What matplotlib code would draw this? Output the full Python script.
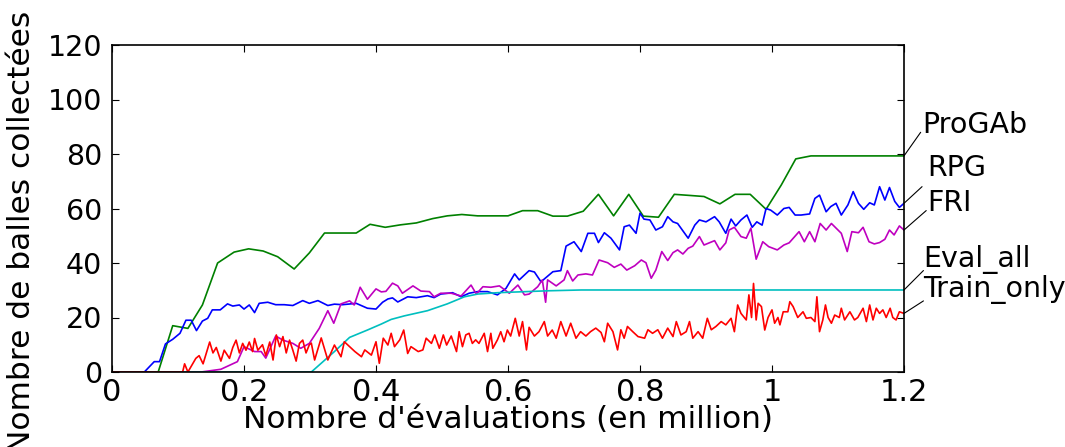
import matplotlib
matplotlib.use("Agg")
import matplotlib.pyplot as plt

# ---------------- data ----------------
x_ticks = [0, 0.2, 0.4, 0.6, 0.8, 1.0, 1.2]
x_ticklabels = ["0", "0.2", "0.4", "0.6", "0.8", "1", "1.2"]
y_ticks = [0, 20, 40, 60, 80, 100, 120]
series_names = ["ProGAb", "RPG", "FRI", "Eval_all", "Train_only"]

progab_x = [0, 0.07, 0.092, 0.115, 0.137, 0.16, 0.185, 0.207, 0.229, 0.251, 0.276, 0.299,
            0.322, 0.345, 0.37, 0.391, 0.414, 0.437, 0.461, 0.486, 0.508, 0.53, 0.554, 0.577,
            0.6, 0.622, 0.645, 0.668, 0.69, 0.714, 0.737, 0.76, 0.783, 0.805, 0.828, 0.852,
            0.875, 0.897, 0.921, 0.944, 0.967, 0.991, 1.014, 1.036, 1.059, 1.2]
progab_y = [0, 0, 17, 16, 24.6, 40, 44, 45.2, 44.4, 42.3, 37.8, 43.7,
            51, 51, 51, 54.2, 53.1, 54, 54.7, 56.3, 57.3, 57.8, 57.3, 57.3,
            57.3, 59.2, 59.2, 57.2, 57.2, 59, 65.2, 57.3, 65.2, 57.2, 56.8, 65.2,
            64.8, 64.4, 61.7, 65.2, 65.2, 59.7, 68.6, 78.2, 79.3, 79.3]

rpg_points = [(0, 0), (0.049, 0), (0.064, 3.8), (0.072, 3.8), (0.081, 10.3), (0.092, 12),
              (0.103, 14.2), (0.112, 19), (0.12, 19), (0.128, 15.2), (0.137, 18.7), (0.145, 19.7),
              (0.152, 22.8), (0.164, 22.8), (0.175, 25), (0.183, 24.2), (0.193, 24.6), (0.2, 23.1),
              (0.208, 24.6), (0.216, 21.8), (0.223, 25.2), (0.236, 25.6), (0.248, 24.7), (0.261, 24.7),
              (0.274, 24.4), (0.289, 26.2), (0.299, 25.2), (0.312, 26.2), (0.327, 24.4), (0.337, 24.9),
              (0.349, 24.7), (0.37, 25.2), (0.387, 23.4), (0.4, 23.1), (0.41, 25.6), (0.418, 26.8),
              (0.425, 27.2), (0.433, 25.7), (0.448, 27.6), (0.461, 27.3), (0.478, 28), (0.488, 27.3),
              (0.498, 28.6), (0.516, 29.1), (0.529, 27.6), (0.541, 28.9), (0.554, 29.5), (0.569, 29.5),
              (0.584, 28.3), (0.597, 30.7), (0.61, 36), (0.617, 33.8), (0.632, 37.2), (0.64, 36.7),
              (0.65, 33.1), (0.668, 36.8), (0.68, 37.2), (0.688, 46.2), (0.7, 47.8), (0.711, 44.2),
              (0.721, 50.9), (0.731, 50.9), (0.737, 47.5), (0.746, 51.1), (0.756, 49.1), (0.769, 44.8),
              (0.776, 53.3), (0.784, 53.9), (0.794, 50.9), (0.8, 58.3), (0.806, 56.1), (0.815, 55.8),
              (0.824, 52.1), (0.834, 53.3), (0.842, 57), (0.85, 55.1), (0.857, 54.5), (0.873, 49.1),
              (0.883, 53.9), (0.89, 55.8), (0.9, 55.1), (0.913, 57), (0.92, 55.1), (0.93, 50.9),
              (0.938, 56.1), (0.945, 53.6), (0.953, 55.8), (0.962, 57.6), (0.97, 53.1), (0.977, 55.1),
              (0.985, 53.9), (0.991, 60), (0.998, 59.4), (1.008, 57.6), (1.018, 60), (1.026, 60.4),
              (1.035, 57.6), (1.044, 57.6), (1.057, 58), (1.065, 63.7), (1.072, 64.9), (1.082, 58.8),
              (1.089, 60.7), (1.097, 61.9), (1.105, 57.6), (1.115, 61.3), (1.123, 66.2), (1.131, 61.9),
              (1.139, 59.7), (1.148, 62.1), (1.155, 61.3), (1.163, 68), (1.171, 63.1), (1.178, 67.7),
              (1.186, 62.6), (1.193, 60.4), (1.2, 61.9)]

fri_points = [(0, 0), (0.135, 0), (0.165, 1), (0.19, 3.8), (0.2, 9.3), (0.216, 7.5), (0.226, 7.5),
              (0.233, 5.1), (0.248, 13.2), (0.259, 11.7), (0.274, 10.5), (0.286, 8.7), (0.299, 10.5),
              (0.314, 16), (0.327, 22.5), (0.336, 17.9), (0.347, 25), (0.36, 26.1), (0.367, 24.6),
              (0.376, 31.1), (0.387, 26.7), (0.4, 30.5), (0.408, 29.4), (0.415, 29.6), (0.425, 32.6),
              (0.433, 31.6), (0.44, 28.9), (0.456, 31.6), (0.468, 29.7), (0.481, 29.5), (0.488, 27.6),
              (0.498, 28.9), (0.514, 28.9), (0.529, 27.9), (0.544, 31.9), (0.552, 28.6), (0.562, 31.3),
              (0.574, 31.1), (0.587, 31.6), (0.602, 28.9), (0.615, 31.9), (0.625, 28.3), (0.632, 28.6),
              (0.645, 31.3), (0.652, 33.8), (0.657, 25.6), (0.66, 33.8), (0.673, 31.6), (0.685, 33.8),
              (0.69, 37.2), (0.698, 33.4), (0.706, 35.6), (0.718, 36), (0.728, 35.6), (0.738, 41.1),
              (0.751, 40.1), (0.761, 38.4), (0.771, 39.6), (0.78, 37.4), (0.792, 39), (0.802, 41.1),
              (0.809, 40.1), (0.817, 34.4), (0.824, 37.4), (0.833, 44.2), (0.842, 40.9), (0.85, 43.8),
              (0.857, 44.8), (0.865, 43.3), (0.873, 45.4), (0.88, 46.2), (0.89, 49.7), (0.897, 46.6),
              (0.913, 48.2), (0.921, 44.8), (0.93, 47.4), (0.935, 52.1), (0.943, 53.1), (0.953, 49.7),
              (0.961, 49.1), (0.968, 52.8), (0.976, 41.4), (0.986, 47.8), (0.995, 46), (1.008, 44.8),
              (1.018, 46.6), (1.026, 47.4), (1.041, 51.5), (1.049, 47.8), (1.057, 51.5), (1.065, 47.8),
              (1.073, 54.5), (1.082, 52.1), (1.09, 54.5), (1.105, 50.9), (1.114, 44.2), (1.121, 51.5),
              (1.131, 51.1), (1.138, 53.1), (1.147, 47.8), (1.155, 47), (1.163, 47.5), (1.171, 48.7),
              (1.178, 52.1), (1.185, 50.3), (1.193, 53.6), (1.2, 52.1)]

eval_points = [(0, 0), (0.302, 0), (0.337, 7.5), (0.36, 12.7), (0.387, 15.4), (0.408, 17.6),
               (0.423, 19.3), (0.443, 20.6), (0.478, 22.5), (0.508, 25), (0.534, 27.6), (0.554, 28.6),
               (0.584, 29.1), (0.66, 29.8), (0.711, 30.1), (1.2, 30.1)]

train_points = [(0, 0), (0.097, 0), (0.107, 0), (0.110, 3), (0.115, 0), (0.127, 5), (0.132, 6),
                (0.138, 3), (0.148, 11), (0.153, 7), (0.158, 9), (0.165, 4), (0.170, 8), (0.178, 5),
                (0.183, 9), (0.188, 11.7), (0.193, 7), (0.198, 10.5), (0.203, 8), (0.208, 11),
                (0.213, 7.5), (0.216, 12.3), (0.221, 8), (0.228, 10), (0.233, 6), (0.239, 11),
                (0.244, 4.4), (0.249, 13.6), (0.254, 9.3), (0.259, 13), (0.264, 7), (0.269, 11.7),
                (0.274, 8), (0.279, 4), (0.284, 10.5), (0.289, 11.7), (0.294, 7), (0.299, 10),
                (0.302, 10.6), (0.307, 4.4), (0.317, 12.5), (0.327, 4.4), (0.337, 9.9), (0.347, 5.6),
                (0.352, 11.1), (0.368, 7.5), (0.378, 5.6), (0.383, 8.1), (0.393, 6.2), (0.400, 11.1),
                (0.405, 3.2), (0.411, 12.4), (0.418, 9.9), (0.423, 14.2), (0.428, 9.3), (0.436, 11.8),
                (0.442, 15.4), (0.448, 6.8), (0.453, 9.3), (0.464, 7.5), (0.471, 8.1), (0.476, 12.4),
                (0.484, 10.5), (0.489, 13.6), (0.496, 8.7), (0.502, 13.6), (0.507, 9.9), (0.514, 13.2),
                (0.522, 7.5), (0.526, 14.8), (0.531, 9.3), (0.536, 13.6), (0.541, 14.2), (0.546, 10.5),
                (0.551, 11.8), (0.556, 10.5), (0.564, 14.2), (0.569, 7.5), (0.574, 14.2), (0.577, 8.7),
                (0.584, 11.8), (0.589, 14.8), (0.594, 11.1), (0.599, 15.4), (0.604, 13.2), (0.611, 19.7),
                (0.617, 13.2), (0.622, 18.5), (0.628, 8.1), (0.632, 16.4), (0.640, 13.2), (0.647, 14.8),
                (0.655, 18.5), (0.660, 13.2), (0.667, 15.4), (0.673, 12.4), (0.680, 18.5), (0.688, 13.2),
                (0.695, 17.9), (0.703, 12.4), (0.710, 14.8), (0.718, 13.2), (0.725, 14.8), (0.733, 16.1),
                (0.741, 14.5), (0.746, 11.1), (0.751, 17.9), (0.759, 14.8), (0.766, 8.1), (0.771, 15.5),
                (0.776, 12.4), (0.781, 16.7), (0.789, 14.8), (0.797, 13.0), (0.807, 12.4), (0.812, 15.5),
                (0.819, 14.2), (0.827, 15.5), (0.834, 12.4), (0.842, 16.1), (0.850, 13.0), (0.855, 18.5),
                (0.862, 13.6), (0.870, 14.8), (0.875, 18.5), (0.880, 12.4), (0.888, 14.8), (0.895, 12.4),
                (0.902, 19.7), (0.908, 15.5), (0.915, 16.7), (0.923, 18.5), (0.930, 17.3), (0.938, 19.7),
                (0.943, 14.8), (0.948, 24.6), (0.953, 21.5), (0.961, 19.1), (0.965, 28.3), (0.969, 20),
                (0.972, 32.5), (0.976, 19.1), (0.979, 25.2), (0.984, 24.0), (0.989, 15.4), (0.994, 20),
                (1.000, 22.8), (1.004, 17.9), (1.009, 20), (1.012, 17.3), (1.017, 22.1), (1.024, 22.1),
                (1.027, 25.8), (1.032, 24.0), (1.039, 20), (1.047, 22.1), (1.052, 19.7), (1.059, 20),
                (1.065, 18.5), (1.068, 27.6), (1.072, 14.8), (1.077, 19.1), (1.081, 24.6), (1.085, 20),
                (1.090, 17.9), (1.095, 20.9), (1.102, 20), (1.105, 23.4), (1.110, 19.1), (1.118, 22.1),
                (1.125, 19.1), (1.130, 20), (1.138, 23.4), (1.143, 18.5), (1.148, 24.6), (1.153, 19.1),
                (1.158, 23.4), (1.163, 21.5), (1.168, 22.8), (1.173, 20), (1.179, 23.4), (1.183, 20),
                (1.188, 19.1), (1.193, 22.1), (1.2, 21.5)]

# ---------------- figure ----------------
plt.rcParams['font.family'] = ['DejaVu Sans']

fig = plt.figure(figsize=(10.65, 4.47), dpi=100)
fig.patch.set_facecolor('white')
ax = fig.add_axes([112 / 1065, 75 / 447, 792 / 1065, 327 / 447])

rpg_x, rpg_y = zip(*rpg_points)
fri_x, fri_y = zip(*fri_points)
eval_x, eval_y = zip(*eval_points)
train_x, train_y = zip(*train_points)

colors = {'g': (0, 0.5, 0), 'b': (0, 0, 1), 'm': (0.75, 0, 0.75), 'c': (0, 0.75, 0.75), 'r': (1, 0, 0)}
series = [(progab_x, progab_y, 'g'), (rpg_x, rpg_y, 'b'), (fri_x, fri_y, 'm'),
          (eval_x, eval_y, 'c'), (train_x, train_y, 'r')]
for xs, ys, c in series:
    ax.plot(xs, ys, color=colors[c], lw=1.2)

ax.set_xlim(0, 1.2)
ax.set_ylim(0, 120)
ax.set_xticks(x_ticks)
ax.set_xticklabels(x_ticklabels, fontsize=22)
ax.set_yticks(y_ticks)
ax.set_yticklabels([str(v) for v in y_ticks], fontsize=20.5)
ax.tick_params(direction='in', top=True, right=True, length=5, width=0.8)
ax.tick_params(axis='x', pad=4)
ax.tick_params(axis='y', pad=7)
for s in ax.spines.values():
    s.set_linewidth(1.2)

ax.set_xlabel("Nombre d'évaluations (en million)", fontsize=22.5, labelpad=-1)
ax.set_ylabel("Nombre de balles collectées", fontsize=22.5)
ax.yaxis.set_label_coords(-0.096, 0.43)

# right-side labels with leader lines (offsets in points)
last_vals = [progab_y[-1], rpg_y[-1], fri_y[-1], eval_y[-1], train_y[-1]]
line_ends = [(12, 17), (13, 12), (16, 14), (14, 14), (14, 9)]
text_pos = [(13, 16.5), (17, 20), (17, 13.5), (14, 16.5), (14, 12)]
for name, v, le, tp in zip(series_names, last_vals, line_ends, text_pos):
    ax.annotate('', xy=(1.2, v), xytext=le, textcoords='offset points',
                arrowprops=dict(arrowstyle='-', color='k', lw=0.8, shrinkA=0, shrinkB=0),
                annotation_clip=False)
    ax.annotate(name, xy=(1.2, v), xytext=tp, textcoords='offset points',
                ha='left', va='baseline', fontsize=20.5, annotation_clip=False)

fig.savefig('out.png', dpi=100, facecolor='white')
